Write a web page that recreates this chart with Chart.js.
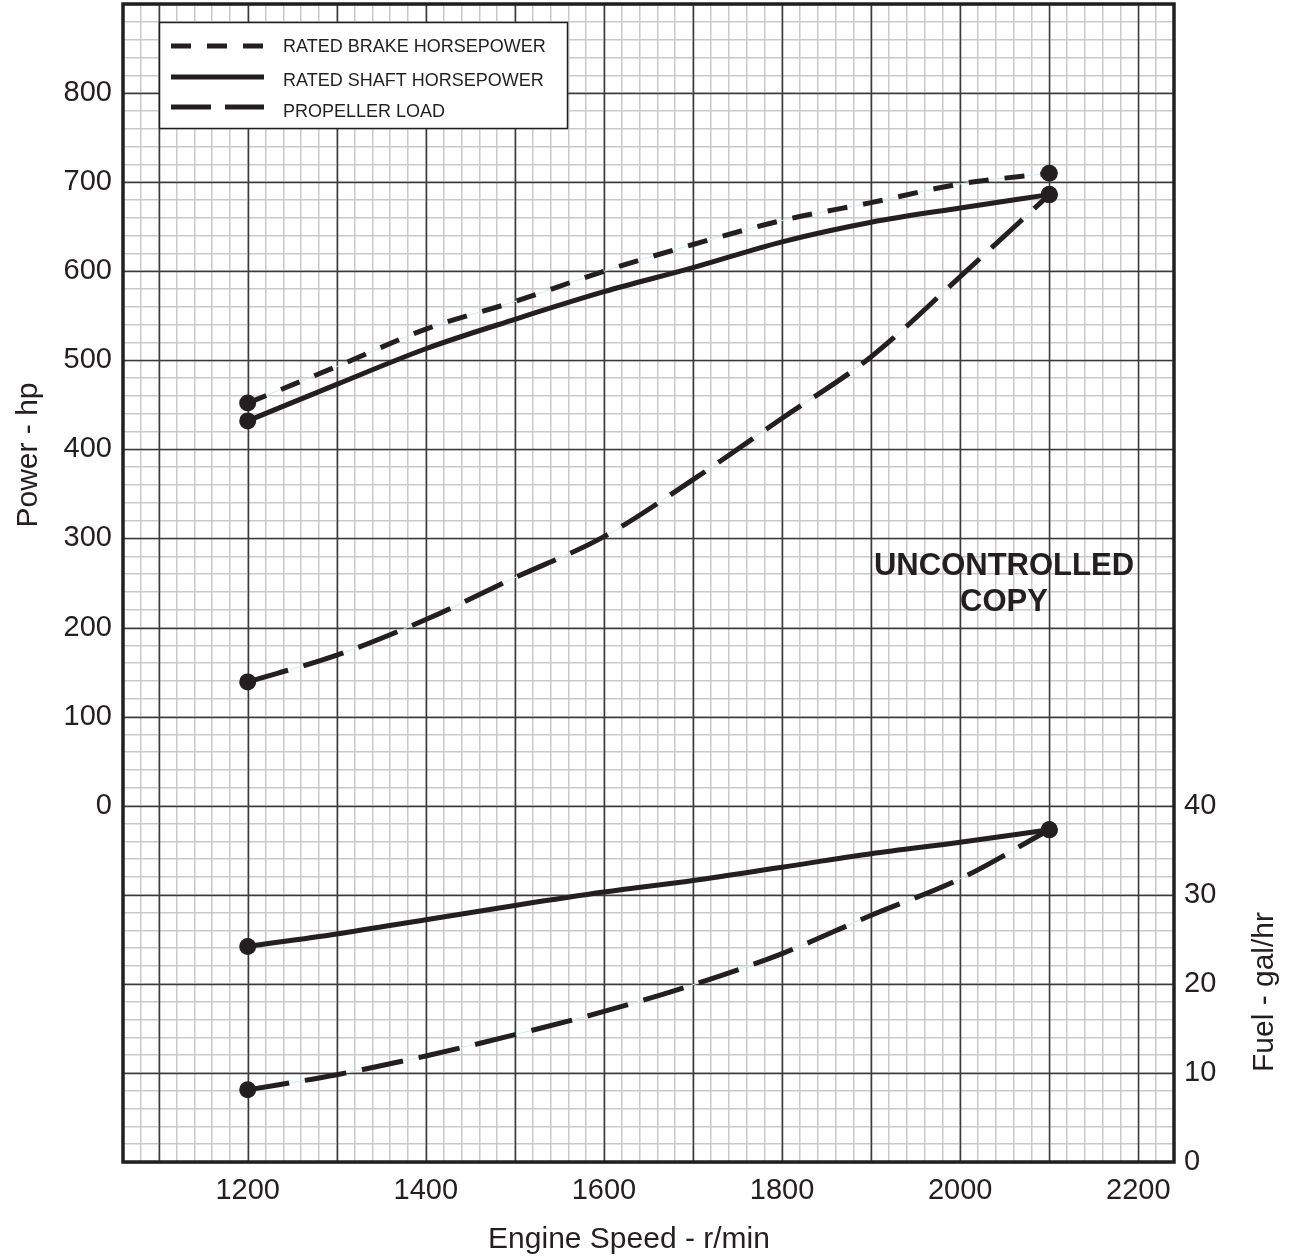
<!DOCTYPE html>
<html>
<head>
<meta charset="utf-8">
<script src="https://cdn.jsdelivr.net/npm/chart.js@4.4.0/dist/chart.umd.min.js"></script>
<style>
  body { margin: 0; background: #fff; }
  #wrap { position: relative; width: 1292px; height: 1256px; }
</style>
</head>
<body>
<div id="wrap"><canvas id="myChart"></canvas></div>
<script>
// engine speed (r/min) where the curves were read
var rpm = [1200, 1300, 1400, 1500, 1600, 1700, 1800, 1900, 2000, 2100]

// power curves, hp
var brakeHp = [452, 493, 535, 566, 600, 630, 657, 677, 698, 710]
var shaftHp = [432, 473, 513, 546, 577, 604, 633, 655, 671, 686]
var propLoad = [139, 169, 209, 256, 302, 366, 435, 504, 594, 686]

// fuel curves, gal/hr
var fuelRated = [24.2, 25.6, 27.2, 28.8, 30.3, 31.6, 33.1, 34.6, 35.9, 37.3]
var fuelProp = [8.1, 9.8, 11.9, 14.3, 16.9, 19.9, 23.4, 27.7, 31.8, 37.3]

var xLabels = [1200, 1400, 1600, 1800, 2000, 2200]
var powerLabels = [0, 100, 200, 300, 400, 500, 600, 700, 800]
var fuelLabels = [0, 10, 20, 30, 40]
var legendNames = ['RATED BRAKE HORSEPOWER', 'RATED SHAFT HORSEPOWER', 'PROPELLER LOAD']

var ink = '#231f20'
var font = '"Liberation Sans", Arial, Helvetica, sans-serif'
var dashShort = [20, 16]
var dashLong = [42, 16]

function pts(ys) {
    return rpm.map(function (r, i) { return { x: r, y: ys[i] } })
}

function endDots(ctx) {
    return (ctx.dataIndex === 0 || ctx.dataIndex === rpm.length - 1) ? 8.5 : 0
}

function curve(label, ys, axis, dash) {
    return {
        label: label,
        data: pts(ys),
        yAxisID: axis,
        borderColor: ink,
        borderWidth: 5,
        borderDash: dash,
        borderCapStyle: 'butt',
        cubicInterpolationMode: 'monotone',
        pointRadius: endDots,
        pointBackgroundColor: ink,
        pointBorderWidth: 0,
        fill: false
    }
}

// faint guide line that shows between the dashes in the original
function guide(ys, axis) {
    return {
        label: '',
        data: pts(ys),
        yAxisID: axis,
        borderColor: '#d3ebf1',
        borderWidth: 1,
        cubicInterpolationMode: 'monotone',
        pointRadius: 0,
        fill: false
    }
}

function stepTicks(min, max, step) {
    return function (scale) {
        var t = []
        for (var v = min; v <= max; v += step) t.push({ value: v })
        scale.ticks = t
    }
}

// fixed box sizes, no extra room for half labels
function fixSize(w, h) {
    return function (s) {
        if (w) s.width = w
        if (h) s.height = h
        s.paddingTop = 0
        s.paddingBottom = 0
        s.paddingLeft = 0
        s.paddingRight = 0
    }
}

var paper = {
    id: 'paper',
    beforeDatasetsDraw: function (chart) {
        var c = chart.ctx, a = chart.chartArea
        var sx = chart.scales.x, sy = chart.scales.y
        c.save()
        c.strokeStyle = '#3a3a3a'
        c.lineWidth = 1.5
        sx.ticks.forEach(function (t) {
            if (t.value % 100 !== 0) return
            var px = Math.round(sx.getPixelForValue(t.value)) + 0.5
            c.beginPath(); c.moveTo(px, a.top); c.lineTo(px, a.bottom); c.stroke()
        })
        sy.ticks.forEach(function (t) {
            if (t.value % 100 !== 0) return
            var py = Math.round(sy.getPixelForValue(t.value)) + 0.5
            c.beginPath(); c.moveTo(a.left, py); c.lineTo(a.right, py); c.stroke()
        })
        c.strokeStyle = ink
        c.lineWidth = 3.5
        c.strokeRect(a.left, a.top, a.right - a.left, a.bottom - a.top)
        c.restore()
    },
    afterDraw: function (chart) {
        var c = chart.ctx
        c.save()
        // legend box
        c.fillStyle = '#fff'
        c.fillRect(159, 22, 409, 107)
        c.strokeStyle = ink
        c.lineWidth = 1.5
        c.strokeRect(159.5, 22.5, 408, 106)
        var lineY = [46, 77, 107]
        var textY = [47, 81, 112]
        var dashes = [dashShort, [], [40, 14]]
        for (var i = 0; i < legendNames.length; i++) {
            c.beginPath()
            c.setLineDash(dashes[i])
            c.lineWidth = 5
            c.strokeStyle = ink
            c.moveTo(171, lineY[i]); c.lineTo(264, lineY[i])
            c.stroke()
            c.setLineDash([])
            c.fillStyle = ink
            c.font = '18px ' + font
            c.textAlign = 'left'
            c.textBaseline = 'middle'
            c.fillText(legendNames[i], 283, textY[i])
        }
        // stamp
        c.font = 'bold 31px ' + font
        c.textAlign = 'center'
        c.fillText('UNCONTROLLED', 1004, 566)
        c.fillText('COPY', 1004, 602)
        // axis titles
        c.font = '30px ' + font
        c.fillText('Engine Speed - r/min', 629, 1240)
        c.save()
        c.translate(29, 455)
        c.rotate(-Math.PI / 2)
        c.fillText('Power - hp', 0, 0)
        c.restore()
        c.save()
        c.translate(1265, 992)
        c.rotate(-Math.PI / 2)
        c.fillText('Fuel - gal/hr', 0, 0)
        c.restore()
        c.restore()
    }
}

var tickFont = { family: font, size: 29 }
var minorGrid = { color: '#c9c9c9', lineWidth: 1.5, drawTicks: false }

new Chart(document.getElementById('myChart'), {
    type: 'line',
    data: {
        datasets: [
            curve(legendNames[0], brakeHp, 'y', dashShort),
            curve(legendNames[1], shaftHp, 'y', []),
            curve(legendNames[2], propLoad, 'y', dashLong),
            curve('Fuel rated', fuelRated, 'y2', []),
            curve('Fuel propeller', fuelProp, 'y2', dashLong),
            guide(brakeHp, 'y'),
            guide(propLoad, 'y'),
            guide(fuelProp, 'y2')
        ]
    },
    options: {
        responsive: true,
        maintainAspectRatio: false,
        animation: false,
        layout: { autoPadding: false, padding: { top: 4, left: 0, right: 0, bottom: 0 } },
        plugins: { legend: { display: false }, tooltip: { enabled: false } },
        scales: {
            x: {
                type: 'linear',
                min: 1060,
                max: 2240,
                afterBuildTicks: stepTicks(1060, 2240, 20),
                afterFit: fixSize(0, 94),
                grid: minorGrid,
                border: { display: false },
                ticks: {
                    autoSkip: false, maxRotation: 0, padding: 12,
                    color: ink, font: tickFont,
                    callback: function (v) { return xLabels.indexOf(v) >= 0 ? String(v) : '' }
                }
            },
            y: {
                position: 'left',
                min: -400,
                max: 900,
                afterBuildTicks: stepTicks(-400, 900, 20),
                afterFit: fixSize(123, 0),
                grid: minorGrid,
                border: { display: false },
                ticks: {
                    autoSkip: false, padding: 11,
                    color: ink, font: tickFont,
                    callback: function (v) { return powerLabels.indexOf(v) >= 0 ? String(v) : '' }
                }
            },
            y2: {
                position: 'right',
                min: 0,
                max: 130,
                afterBuildTicks: function (s) { s.ticks = fuelLabels.map(function (v) { return { value: v } }) },
                afterFit: fixSize(118, 0),
                grid: { drawOnChartArea: false, drawTicks: false },
                border: { display: false },
                ticks: {
                    autoSkip: false, padding: 10,
                    color: ink, font: tickFont,
                    callback: function (v) { return String(v) }
                }
            }
        }
    },
    plugins: [paper]
})
</script>
</body>
</html>
